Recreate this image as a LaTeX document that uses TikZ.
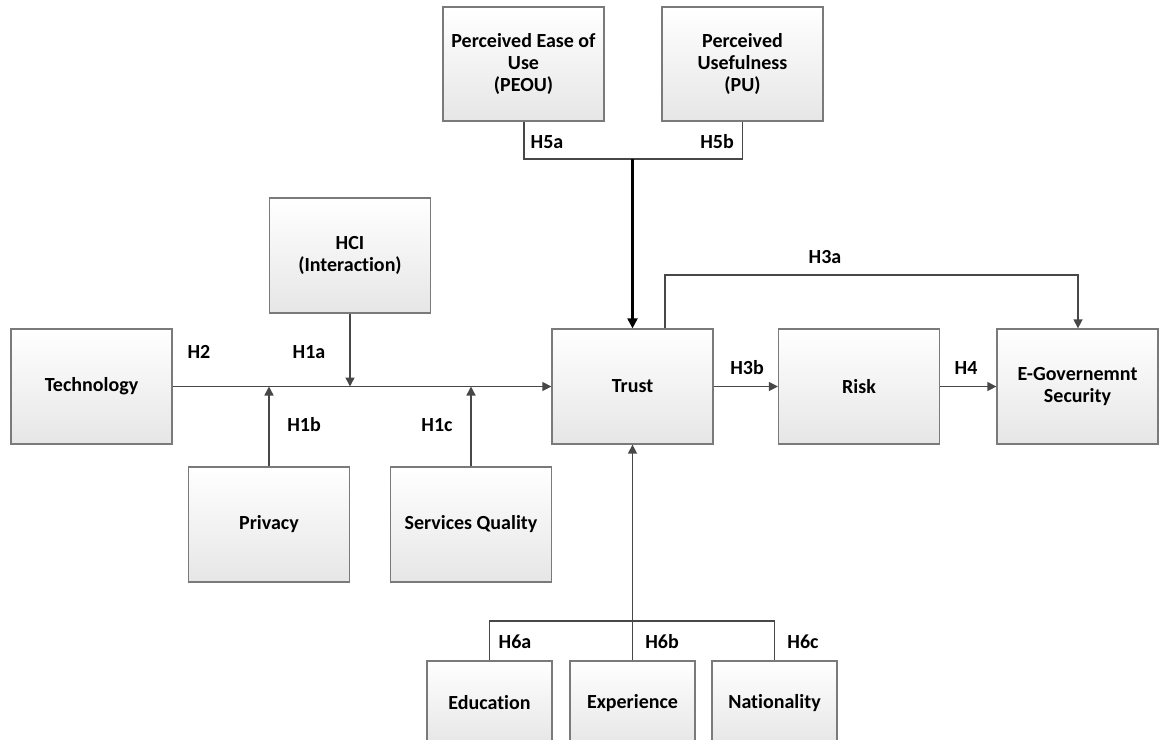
\documentclass[tikz,border=0pt]{standalone}
\usepackage{fontspec}
\setmainfont{Carlito}[Ligatures={TeX,NoCommon}]
\usetikzlibrary{arrows.meta}

\definecolor{boxline}{HTML}{7A7A7A}
\definecolor{boxbottom}{HTML}{E6E6E6}
\definecolor{wire}{HTML}{474747}

\begin{document}
\begin{tikzpicture}[x=1pt,y=-1pt,
  box/.style={draw=boxline, line width=1.3pt, top color=white, bottom color=boxbottom,
    minimum width=161pt, minimum height=115pt, align=center, inner sep=2pt,
    font=\fontsize{20}{22}\selectfont\bfseries},
  smallbox/.style={box, minimum width=125pt, minimum height=84pt},
  wireline/.style={draw=wire, line width=1.5pt},
  arrowline/.style={wireline, -{Triangle[length=9pt,width=9pt]}},
  boldarrow/.style={draw=black, line width=2.2pt, -{Triangle[length=10pt,width=10pt]}},
  hyp/.style={font=\fontsize{20}{22}\selectfont\bfseries, inner sep=0pt}]

\useasboundingbox (0,0) rectangle (1159,739);

% constructs
\node[box, minimum height=114pt] (peou) at (523.5,64) {Perceived Ease of\\Use\\(PEOU)};
\node[box, minimum height=114pt] (pu)   at (742.5,64) {Perceived\\Usefulness\\(PU)};
\node[box] (hci)   at (350,255.5) {HCI\\(Interaction)};
\node[box] (tech)  at (91.5,386.5) {Technology};
\node[box] (trust) at (632.5,386.5) {Trust};
\node[box] (risk)  at (859,386.5) {Risk};
\node[box] (egov)  at (1077.5,386.5) {E-Governemnt\\Security};
\node[box] (priv)  at (269,524.5) {Privacy};
\node[box] (serv)  at (471,524.5) {Services Quality};
\node[smallbox] (edu) at (489.5,703) {Education};
\node[smallbox] (exp) at (632.5,703) {Experience};
\node[smallbox] (nat) at (774.5,703) {Nationality};

% junction points
\coordinate (b5L) at (524,159);
\coordinate (b5M) at (632.5,159);
\coordinate (b5R) at (742.5,159);
\coordinate (h3aL) at (665,275);
\coordinate (h3aR) at (1078,275);
\coordinate (b6) at (632.5,621);
\coordinate (jHci) at (hci.south |- tech.east);
\coordinate (jPriv) at (priv.north |- tech.east);
\coordinate (jServ) at (serv.north |- tech.east);

% H5: PEOU / PU -> Trust
\draw[wireline] (peou.south -| b5L) -- (b5L) -- (b5R) -- (pu.south -| b5R);
\draw[boldarrow] (b5M) -- (trust.north);

% H1 / H2: moderated path Technology -> Trust
\draw[arrowline] (tech.east) -- (trust.west);
\draw[arrowline] (hci.south) -- (jHci);
\draw[arrowline] (priv.north) -- (jPriv);
\draw[arrowline] (serv.north) -- (jServ);

% H3 / H4
\draw[arrowline] (trust.north -| h3aL) -- (h3aL) -- (h3aR) -- (egov.north -| h3aR);
\draw[arrowline] (trust.east) -- (risk.west);
\draw[arrowline] (risk.east) -- (egov.west);

% H6: demographics -> Trust
\draw[wireline] (edu.north) |- (b6) -| (nat.north);
\draw[wireline] (exp.north) -- (b6);
\draw[arrowline] (b6) -- (trust.south);

% hypothesis labels
\node[hyp] (lH5a) at (547,142) {H5a};
\node[hyp] (lH5b) at (717,142) {H5b};
\node[hyp] (lH2)  at (199,352) {H2};
\node[hyp] (lH1a) at (309,352) {H1a};
\node[hyp] (lH1b) at (304,425) {H1b};
\node[hyp] (lH1c) at (437,425) {H1c};
\node[hyp] (lH3a) at (825,257) {H3a};
\node[hyp] (lH3b) at (747,368) {H3b};
\node[hyp] (lH4)  at (966,368) {H4};
\node[hyp] (lH6a) at (515,642) {H6a};
\node[hyp] (lH6b) at (662,642) {H6b};
\node[hyp] (lH6c) at (803,642) {H6c};
\end{tikzpicture}
\end{document}
